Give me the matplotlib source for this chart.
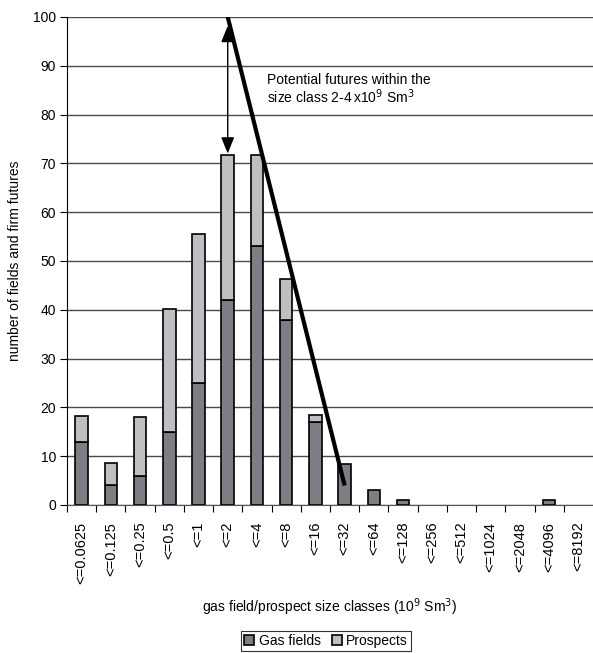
import matplotlib
matplotlib.use("Agg")
import matplotlib.pyplot as plt
import numpy as np

plt.rcParams["font.family"] = ["Liberation Sans", "DejaVu Sans"]
plt.rcParams["font.size"] = 10

# size classes (10^9 Sm^3) and counts per class
classes = ["<=0.0625", "<=0.125", "<=0.25", "<=0.5", "<=1", "<=2", "<=4", "<=8",
           "<=16", "<=32", "<=64", "<=128", "<=256", "<=512", "<=1024", "<=2048",
           "<=4096", "<=8192"]
gas_fields = [13, 4, 6, 15, 25, 42, 53, 38, 17, 8.4, 3, 1, 0, 0, 0, 0, 1, 0]
prospects = [5.2, 4.6, 12, 25.1, 30.6, 29.8, 18.8, 8.3, 1.4, 0, 0, 0, 0, 0, 0, 0, 0, 0]

# trend line through the size distribution (class index, count)
trend_x = [5, 9]
trend_y = [100, 4]
# unexplored potential in the 2-4 class
arrow_x = 5
arrow_top = 98.2
arrow_bottom = 72

GAS = "#7d7e83"
PROS = "#bebfc3"

x = np.arange(len(classes))
gas = np.array(gas_fields, dtype=float)
pros = np.array(prospects, dtype=float)

fig = plt.figure(figsize=(5.93, 6.53), dpi=100)
ax = fig.add_axes([67 / 593, 1 - 505 / 653, 1 - 67 / 593, (505 - 17) / 653])

# empty classes get no bar outline
g = gas > 0
ax.bar(x[g], gas[g], width=0.43, color=GAS, edgecolor="black", linewidth=1.2,
       label="Gas fields", zorder=3)
p = pros > 0
ax.bar(x[p], pros[p], width=0.43, bottom=gas[p], color=PROS, edgecolor="black",
       linewidth=1.2, label="Prospects", zorder=3)

ax.plot(trend_x, trend_y, color="black", linewidth=3, solid_capstyle="butt", zorder=5)
ax.annotate("", xy=(arrow_x, arrow_bottom), xytext=(arrow_x, arrow_top),
            arrowprops=dict(arrowstyle="<|-|>,head_length=1.0,head_width=0.4",
                            color="black", lw=1, shrinkA=0, shrinkB=0), zorder=4)
ax.text(6.33, 88.5, "Potential futures within the\nsize class 2-4$\\,$x10$^9$ Sm$^3$",
        ha="left", va="top", fontsize=10, linespacing=1.05)

ax.set_ylim(0, 100)
ax.set_xlim(-0.5, 17.5)
ax.set_yticks(np.arange(0, 101, 10))
ax.set_xticks(x)
ax.set_xticklabels(classes, rotation=90, fontsize=10.5)
ax.set_xticks(np.arange(-0.5, 17, 1), minor=True)
ax.tick_params(axis="x", which="major", length=0, pad=12)
ax.tick_params(axis="x", which="minor", length=5, direction="out", width=0.8)
ax.tick_params(axis="y", length=5, width=0.8, pad=3)
ax.yaxis.grid(True, color="#4a4a4a", linewidth=1)
ax.set_axisbelow(True)
for side in ("top", "right"):
    ax.spines[side].set_visible(False)
ax.spines["left"].set_color("black")
ax.spines["bottom"].set_color("#555555")

ax.set_ylabel("number of fields and firm futures", labelpad=8)
ax.set_xlabel("gas field/prospect size classes (10$^9$ Sm$^3$)")
ax.xaxis.set_label_coords((330 - 67) / (593 - 67), -(596 - 505) / 488)

leg = fig.legend(loc="center", bbox_to_anchor=(326 / 593, 1 - 641 / 653), ncol=2,
                 frameon=True, fancybox=False, edgecolor="black",
                 handlelength=0.75, handleheight=0.75, handletextpad=0.3,
                 columnspacing=0.8, borderpad=0.25, fontsize=10)
leg.get_frame().set_linewidth(0.8)

fig.savefig("out.png", dpi=100)
